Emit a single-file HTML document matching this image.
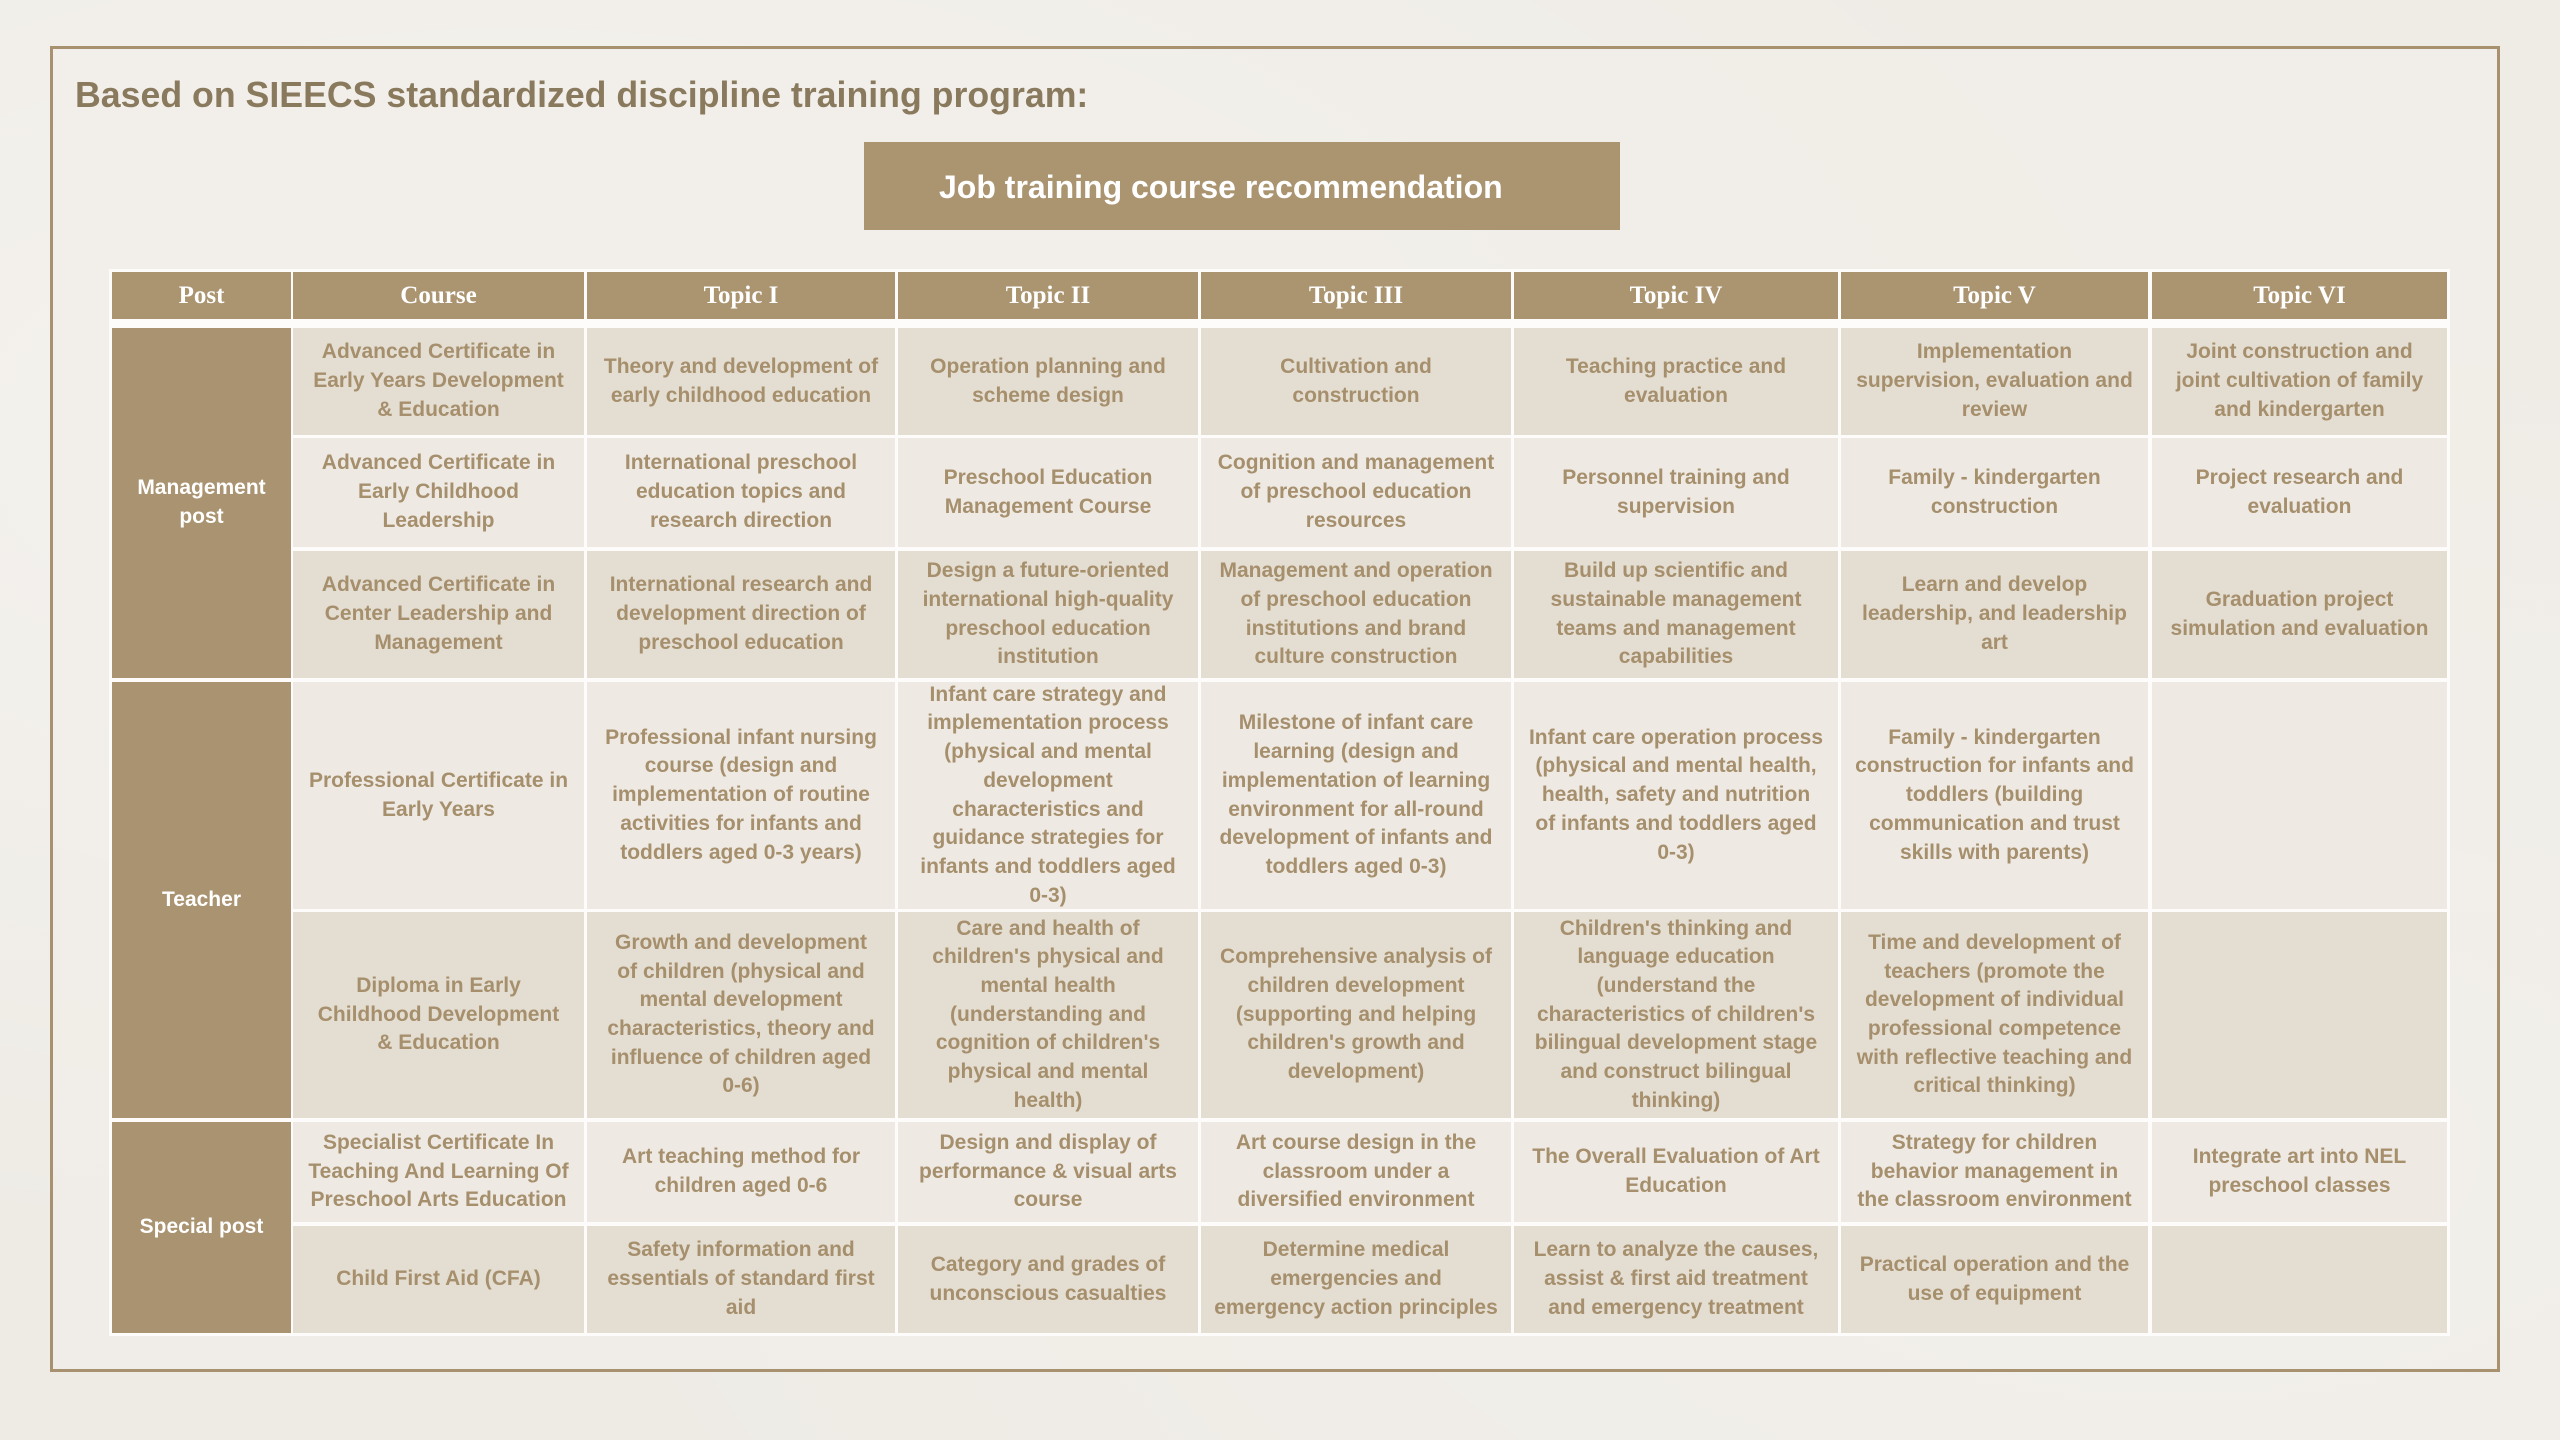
<!DOCTYPE html>
<html>
<head>
<meta charset="utf-8">
<style>
  html,body{margin:0;padding:0;}
  body{width:2560px;height:1440px;overflow:hidden;position:relative;
    background:#efece6;
    background-image:radial-gradient(ellipse at 20% 30%, rgba(255,255,255,0.35), rgba(255,255,255,0) 60%),
                     radial-gradient(ellipse at 85% 80%, rgba(255,255,255,0.25), rgba(255,255,255,0) 55%),
                     linear-gradient(180deg,#efece6 0%,#eeebe5 100%);
    font-family:"Liberation Sans", Arial, sans-serif;}
  .frame{position:absolute;left:50px;top:46px;width:2444px;height:1320px;border:3px solid #a8916f;background:rgba(242,239,234,0.6);}
  .title{position:absolute;left:75px;top:78px;font-size:35.7px;line-height:1;font-weight:bold;color:#8a7a5d;white-space:nowrap;}
  .banner{position:absolute;left:864px;top:142px;width:756px;height:88px;background:#ab9470;}
  .banner span{position:absolute;left:75px;top:29px;font-size:32px;line-height:1;font-weight:bold;color:#fff;white-space:nowrap;}
  .tbl{position:absolute;left:109px;top:269px;width:2341px;height:1067px;background:#fdfcfa;}
  .c{position:absolute;display:flex;align-items:center;justify-content:center;text-align:center;
     font-size:21px;line-height:28.7px;font-weight:bold;color:#a68f6c;white-space:nowrap;overflow:visible;}
  .h{background:#ab9470;color:#fff;font-family:"Liberation Serif","Times New Roman",serif;font-size:25px;line-height:1;}
  .p{background:#aa9370;color:#fff;}
  .d{background:#e4ddd1;}
  .l{background:#eeeae3;}
</style>
</head>
<body>
<div class="frame"></div>
<div class="title">Based on SIEECS standardized discipline training program:</div>
<div class="banner"><span>Job training course recommendation</span></div>
<div class="tbl"></div>

<!-- header row: 272-319 -->
<div class="c h" style="left:112px;top:272px;width:179px;height:47px;">Post</div>
<div class="c h" style="left:293px;top:272px;width:291px;height:47px;">Course</div>
<div class="c h" style="left:587px;top:272px;width:308px;height:47px;">Topic I</div>
<div class="c h" style="left:898px;top:272px;width:300px;height:47px;">Topic II</div>
<div class="c h" style="left:1201px;top:272px;width:310px;height:47px;">Topic III</div>
<div class="c h" style="left:1514px;top:272px;width:324px;height:47px;">Topic IV</div>
<div class="c h" style="left:1841px;top:272px;width:307px;height:47px;">Topic V</div>
<div class="c h" style="left:2152px;top:272px;width:295px;height:47px;">Topic VI</div>

<!-- Post column -->
<div class="c p" style="left:112px;top:328px;width:179px;height:350px;">Management<br>post</div>
<div class="c p" style="left:112px;top:682px;width:179px;height:436px;">Teacher</div>
<div class="c p" style="left:112px;top:1122px;width:179px;height:211px;">Special post</div>

<!-- Row 1: 328-435 dark -->
<div class="c d" style="left:293px;top:328px;width:291px;height:107px;">Advanced Certificate in<br>Early Years Development<br>&amp; Education</div>
<div class="c d" style="left:587px;top:328px;width:308px;height:107px;">Theory and development of<br>early childhood education</div>
<div class="c d" style="left:898px;top:328px;width:300px;height:107px;">Operation planning and<br>scheme design</div>
<div class="c d" style="left:1201px;top:328px;width:310px;height:107px;">Cultivation and<br>construction</div>
<div class="c d" style="left:1514px;top:328px;width:324px;height:107px;">Teaching practice and<br>evaluation</div>
<div class="c d" style="left:1841px;top:328px;width:307px;height:107px;">Implementation<br>supervision, evaluation and<br>review</div>
<div class="c d" style="left:2152px;top:328px;width:295px;height:107px;">Joint construction and<br>joint cultivation of family<br>and kindergarten</div>

<!-- Row 2: 438-547 light -->
<div class="c l" style="left:293px;top:438px;width:291px;height:109px;">Advanced Certificate in<br>Early Childhood<br>Leadership</div>
<div class="c l" style="left:587px;top:438px;width:308px;height:109px;">International preschool<br>education topics and<br>research direction</div>
<div class="c l" style="left:898px;top:438px;width:300px;height:109px;">Preschool Education<br>Management Course</div>
<div class="c l" style="left:1201px;top:438px;width:310px;height:109px;">Cognition and management<br>of preschool education<br>resources</div>
<div class="c l" style="left:1514px;top:438px;width:324px;height:109px;">Personnel training and<br>supervision</div>
<div class="c l" style="left:1841px;top:438px;width:307px;height:109px;">Family - kindergarten<br>construction</div>
<div class="c l" style="left:2152px;top:438px;width:295px;height:109px;">Project research and<br>evaluation</div>

<!-- Row 3: 551-678 dark -->
<div class="c d" style="left:293px;top:551px;width:291px;height:127px;">Advanced Certificate in<br>Center Leadership and<br>Management</div>
<div class="c d" style="left:587px;top:551px;width:308px;height:127px;">International research and<br>development direction of<br>preschool education</div>
<div class="c d" style="left:898px;top:551px;width:300px;height:127px;">Design a future-oriented<br>international high-quality<br>preschool education<br>institution</div>
<div class="c d" style="left:1201px;top:551px;width:310px;height:127px;">Management and operation<br>of preschool education<br>institutions and brand<br>culture construction</div>
<div class="c d" style="left:1514px;top:551px;width:324px;height:127px;">Build up scientific and<br>sustainable management<br>teams and management<br>capabilities</div>
<div class="c d" style="left:1841px;top:551px;width:307px;height:127px;">Learn and develop<br>leadership, and leadership<br>art</div>
<div class="c d" style="left:2152px;top:551px;width:295px;height:127px;">Graduation project<br>simulation and evaluation</div>

<!-- Row 4: 682-909 light -->
<div class="c l" style="left:293px;top:682px;width:291px;height:227px;">Professional Certificate in<br>Early Years</div>
<div class="c l" style="left:587px;top:682px;width:308px;height:227px;">Professional infant nursing<br>course (design and<br>implementation of routine<br>activities for infants and<br>toddlers aged 0-3 years)</div>
<div class="c l" style="left:898px;top:682px;width:300px;height:227px;">Infant care strategy and<br>implementation process<br>(physical and mental<br>development<br>characteristics and<br>guidance strategies for<br>infants and toddlers aged<br>0-3)</div>
<div class="c l" style="left:1201px;top:682px;width:310px;height:227px;">Milestone of infant care<br>learning (design and<br>implementation of learning<br>environment for all-round<br>development of infants and<br>toddlers aged 0-3)</div>
<div class="c l" style="left:1514px;top:682px;width:324px;height:227px;">Infant care operation process<br>(physical and mental health,<br>health, safety and nutrition<br>of infants and toddlers aged<br>0-3)</div>
<div class="c l" style="left:1841px;top:682px;width:307px;height:227px;">Family - kindergarten<br>construction for infants and<br>toddlers (building<br>communication and trust<br>skills with parents)</div>
<div class="c l" style="left:2152px;top:682px;width:295px;height:227px;"></div>

<!-- Row 5: 912-1118 dark -->
<div class="c d" style="left:293px;top:912px;width:291px;height:206px;">Diploma in Early<br>Childhood Development<br>&amp; Education</div>
<div class="c d" style="left:587px;top:912px;width:308px;height:206px;">Growth and development<br>of children (physical and<br>mental development<br>characteristics, theory and<br>influence of children aged<br>0-6)</div>
<div class="c d" style="left:898px;top:912px;width:300px;height:206px;">Care and health of<br>children's physical and<br>mental health<br>(understanding and<br>cognition of children's<br>physical and mental<br>health)</div>
<div class="c d" style="left:1201px;top:912px;width:310px;height:206px;">Comprehensive analysis of<br>children development<br>(supporting and helping<br>children's growth and<br>development)</div>
<div class="c d" style="left:1514px;top:912px;width:324px;height:206px;">Children's thinking and<br>language education<br>(understand the<br>characteristics of children's<br>bilingual development stage<br>and construct bilingual<br>thinking)</div>
<div class="c d" style="left:1841px;top:912px;width:307px;height:206px;">Time and development of<br>teachers (promote the<br>development of individual<br>professional competence<br>with reflective teaching and<br>critical thinking)</div>
<div class="c d" style="left:2152px;top:912px;width:295px;height:206px;"></div>

<!-- Row 6: 1122-1222 light -->
<div class="c l" style="left:293px;top:1122px;width:291px;height:100px;">Specialist Certificate In<br>Teaching And Learning Of<br>Preschool Arts Education</div>
<div class="c l" style="left:587px;top:1122px;width:308px;height:100px;">Art teaching method for<br>children aged 0-6</div>
<div class="c l" style="left:898px;top:1122px;width:300px;height:100px;">Design and display of<br>performance &amp; visual arts<br>course</div>
<div class="c l" style="left:1201px;top:1122px;width:310px;height:100px;">Art course design in the<br>classroom under a<br>diversified environment</div>
<div class="c l" style="left:1514px;top:1122px;width:324px;height:100px;">The Overall Evaluation of Art<br>Education</div>
<div class="c l" style="left:1841px;top:1122px;width:307px;height:100px;">Strategy for children<br>behavior management in<br>the classroom environment</div>
<div class="c l" style="left:2152px;top:1122px;width:295px;height:100px;">Integrate art into NEL<br>preschool classes</div>

<!-- Row 7: 1226-1333 dark -->
<div class="c d" style="left:293px;top:1226px;width:291px;height:107px;">Child First Aid (CFA)</div>
<div class="c d" style="left:587px;top:1226px;width:308px;height:107px;">Safety information and<br>essentials of standard first<br>aid</div>
<div class="c d" style="left:898px;top:1226px;width:300px;height:107px;">Category and grades of<br>unconscious casualties</div>
<div class="c d" style="left:1201px;top:1226px;width:310px;height:107px;">Determine medical<br>emergencies and<br>emergency action principles</div>
<div class="c d" style="left:1514px;top:1226px;width:324px;height:107px;">Learn to analyze the causes,<br>assist &amp; first aid treatment<br>and emergency treatment</div>
<div class="c d" style="left:1841px;top:1226px;width:307px;height:107px;">Practical operation and the<br>use of equipment</div>
<div class="c d" style="left:2152px;top:1226px;width:295px;height:107px;"></div>
</body>
</html>
